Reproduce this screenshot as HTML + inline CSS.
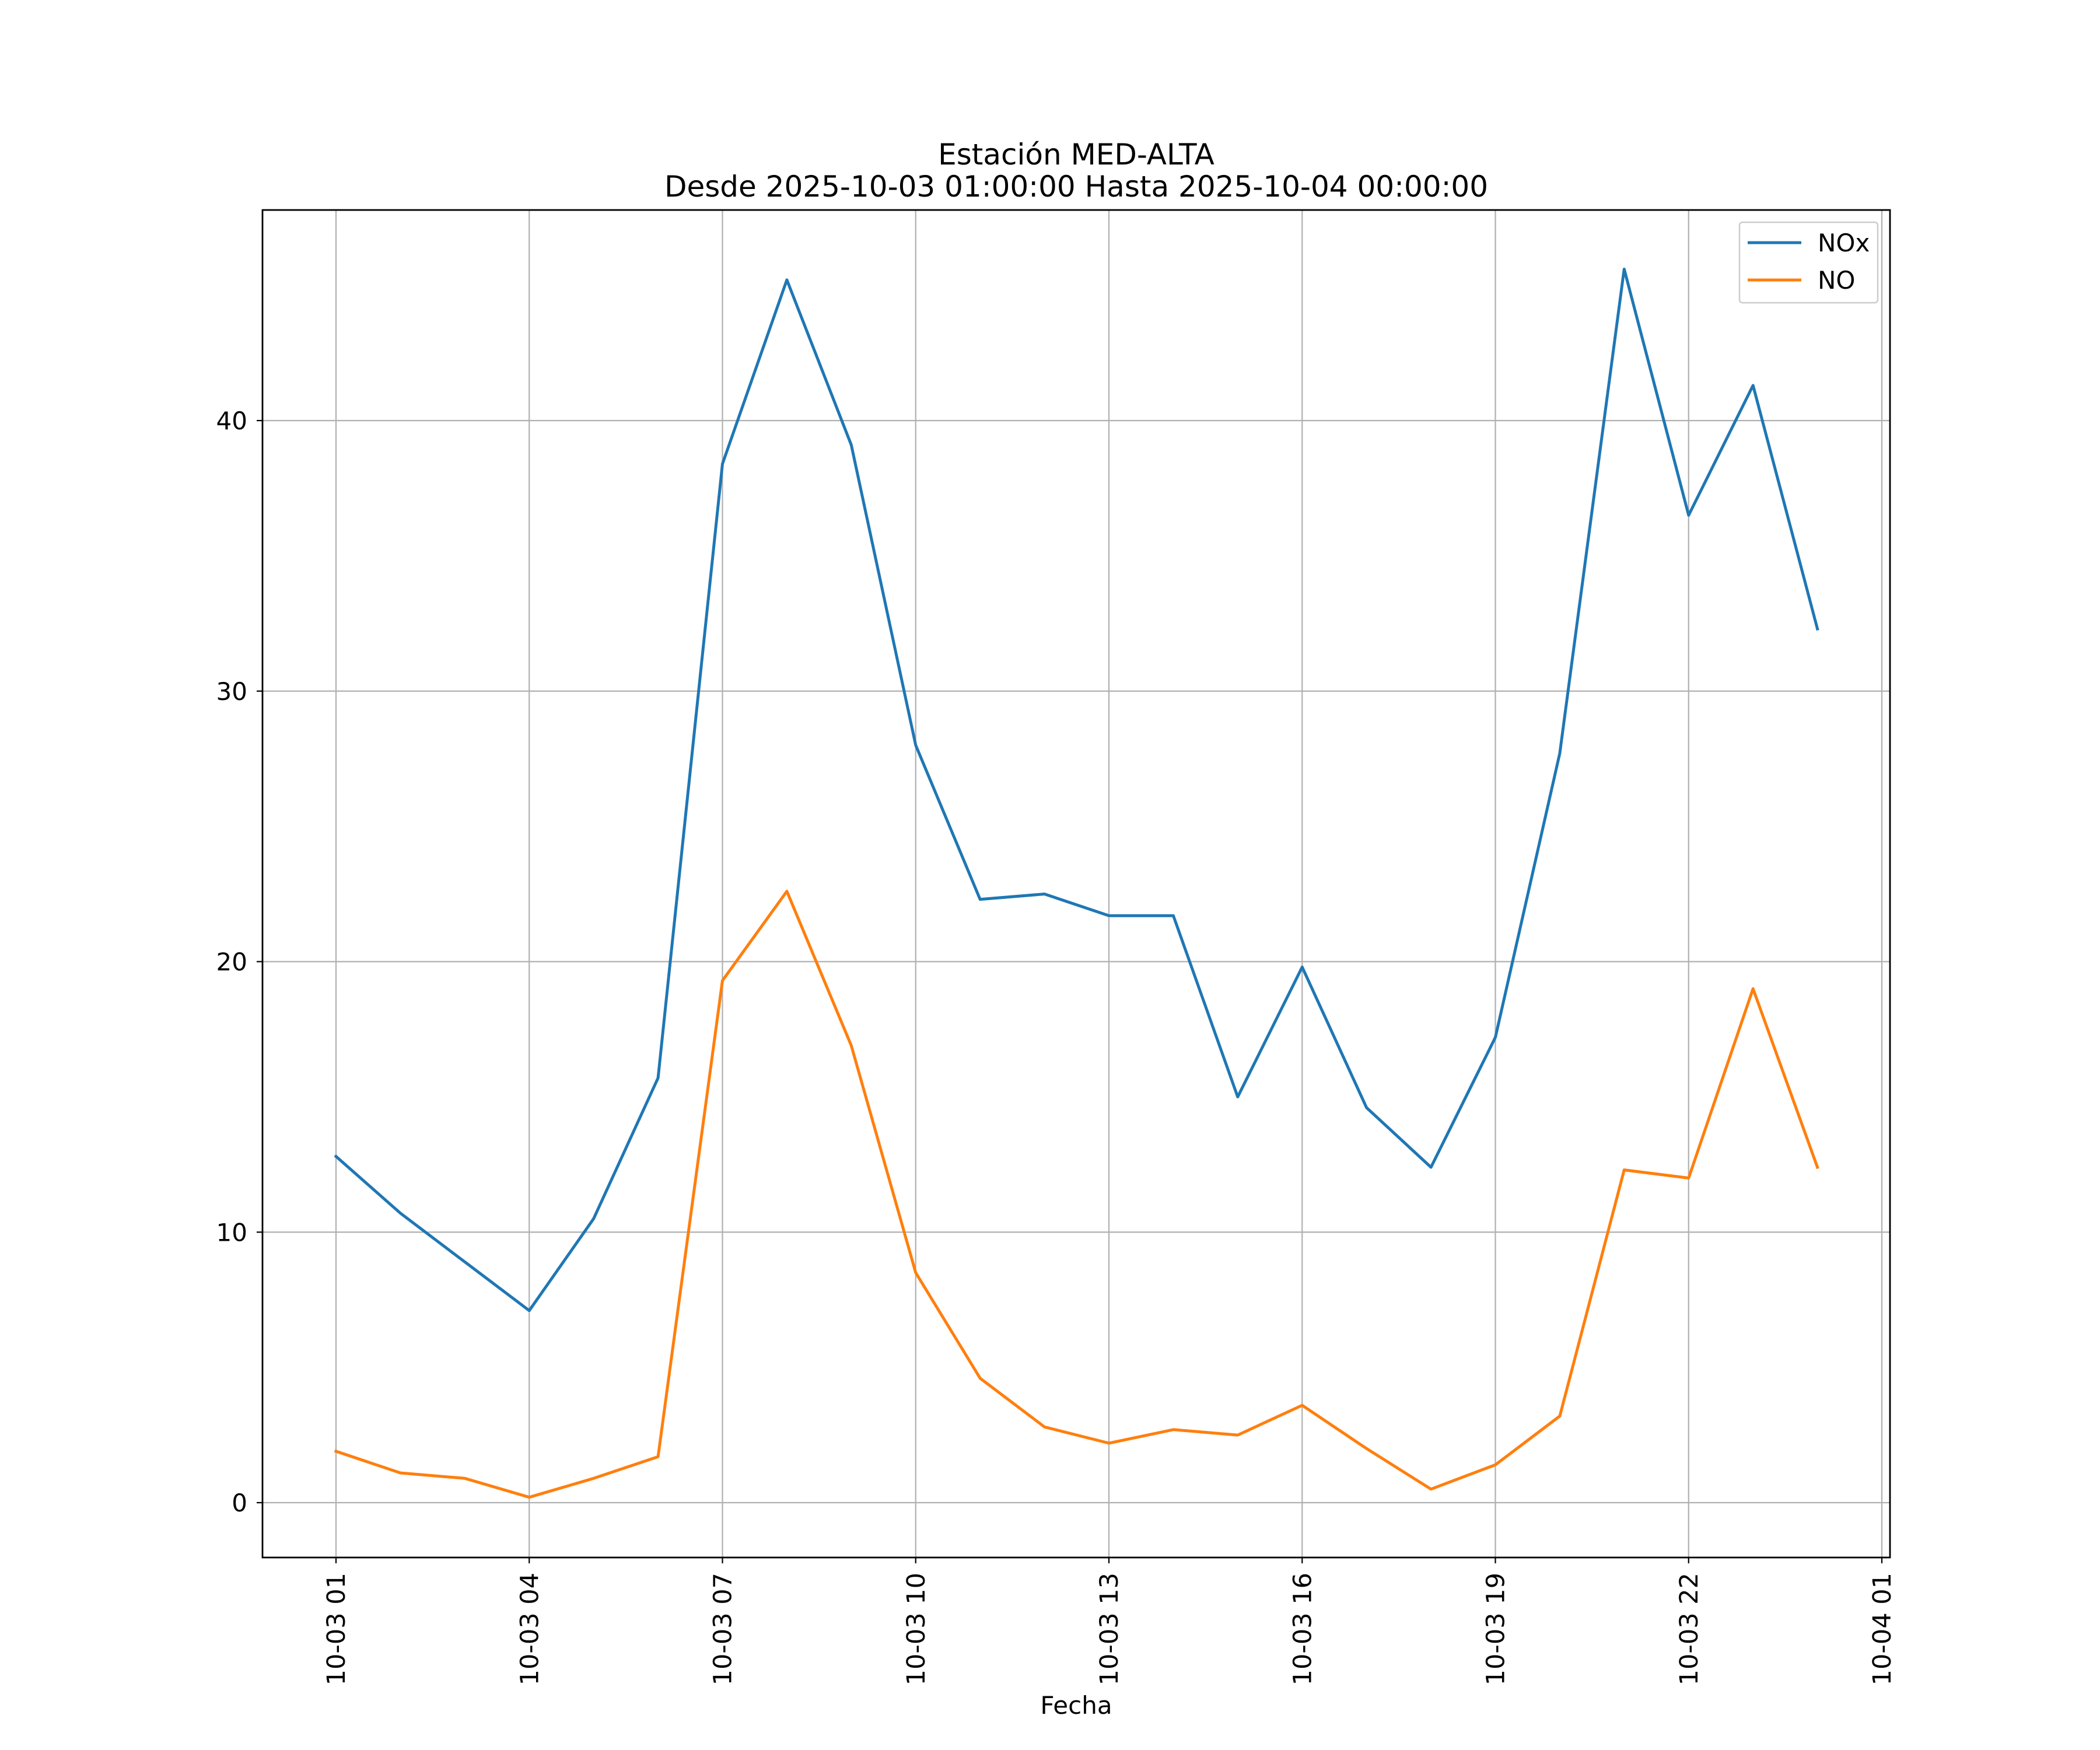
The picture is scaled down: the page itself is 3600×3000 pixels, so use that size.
<!DOCTYPE html>
<html><head><meta charset="utf-8">
<style>
html,body{margin:0;padding:0;background:#fff;}
svg{display:block;font-family:"DejaVu Sans","Liberation Sans",sans-serif;}
</style></head>
<body>
<svg id="chart" width="3600" height="3000" viewBox="0 0 3600 3000" xmlns="http://www.w3.org/2000/svg">
<rect width="3600" height="3000" fill="#fff"/>
<text x="1845" y="282" font-size="50" text-anchor="middle">Estación MED-ALTA</text>
<text x="1845" y="337" font-size="50" text-anchor="middle">Desde 2025-10-03 01:00:00 Hasta 2025-10-04 00:00:00</text>
<g id="grid"></g>
<g id="series"></g>
<rect x="450" y="360" width="2790" height="2310" fill="none" stroke="#000" stroke-width="2.8"/>
<g id="ticks"></g>
<text x="1845" y="2938" font-size="42" text-anchor="middle">Fecha</text>
<g>
<rect x="2982" y="381" width="237" height="138" fill="#fff" fill-opacity="0.8" stroke="#ccc" stroke-width="2.5" rx="5"/>
<line x1="2996" y1="416" x2="3088" y2="416" stroke="#1f77b4" stroke-width="5"/>
<text x="3116" y="431" font-size="42">NOx</text>
<line x1="2996" y1="480" x2="3088" y2="480" stroke="#ff7f0e" stroke-width="5"/>
<text x="3116" y="495" font-size="42">NO</text>
</g>
</svg>
<script>
const hours = [1,2,3,4,5,6,7,8,9,10,11,12,13,14,15,16,17,18,19,20,21,22,23,24];
const noxValues = [12.8,10.7,8.9,7.1,10.5,15.7,38.4,45.2,39.1,28.0,22.3,22.5,21.7,21.7,15.0,19.8,14.6,12.4,17.2,27.7,45.6,36.5,41.3,32.3];
const noValues = [1.9,1.1,0.9,0.2,0.9,1.7,19.3,22.6,16.9,8.5,4.6,2.8,2.2,2.7,2.5,3.6,2.0,0.5,1.4,3.2,12.3,12.0,19.0,12.4];
const xTickHours = [1,4,7,10,13,16,19,22,25];
const xTickLabels = ["10-03 01","10-03 04","10-03 07","10-03 10","10-03 13","10-03 16","10-03 19","10-03 22","10-04 01"];
const yTicks = [0,10,20,30,40];

const NS="http://www.w3.org/2000/svg";
function xs(h){return 576 + (h-1)*(3226-576)/24;}
function ys(v){return 2576 - v*(2576-721)/40;}
function mk(tag,attrs,parent){const e=document.createElementNS(NS,tag);for(const k in attrs)e.setAttribute(k,attrs[k]);parent.appendChild(e);return e;}
const grid=document.getElementById('grid'), ticks=document.getElementById('ticks'), series=document.getElementById('series');
xTickHours.forEach((h,i)=>{
  const x=xs(h);
  const g=mk('line',{x1:x,y1:360,x2:x,y2:2670,stroke:'#b0b0b0','stroke-width':2.2},grid);
  
  
  mk('line',{x1:x,y1:2670,x2:x,y2:2680,stroke:'#000','stroke-width':2.2},ticks);
  const t=mk('text',{x:x+15,y:2696,'font-size':43,'text-anchor':'end',transform:`rotate(-90 ${x+15} 2696)`},ticks);
  
  
  t.textContent=xTickLabels[i];
});
yTicks.forEach(v=>{
  const y=ys(v);
  const g=mk('line',{x1:450,y1:y,x2:3240,y2:y,stroke:'#b0b0b0','stroke-width':2.2},grid);
  
  
  mk('line',{x1:440,y1:y,x2:450,y2:y,stroke:'#000','stroke-width':2.2},ticks);
  const t=mk('text',{x:424,y:y+15,'font-size':42,'text-anchor':'end'},ticks);
  
  
  t.textContent=String(v);
});
function drawLine(vals,color,name){
  const pts=vals.map((v,i)=>xs(hours[i]).toFixed(1)+','+ys(v).toFixed(1)).join(' ');
  const p=mk('polyline',{points:pts,fill:'none',stroke:color,'stroke-width':5,'stroke-linejoin':'round','stroke-linecap':'square'},series);
  
  
}
drawLine(noxValues,'#1f77b4','nox-line');
drawLine(noValues,'#ff7f0e','no-line');
</script>
</body></html>
